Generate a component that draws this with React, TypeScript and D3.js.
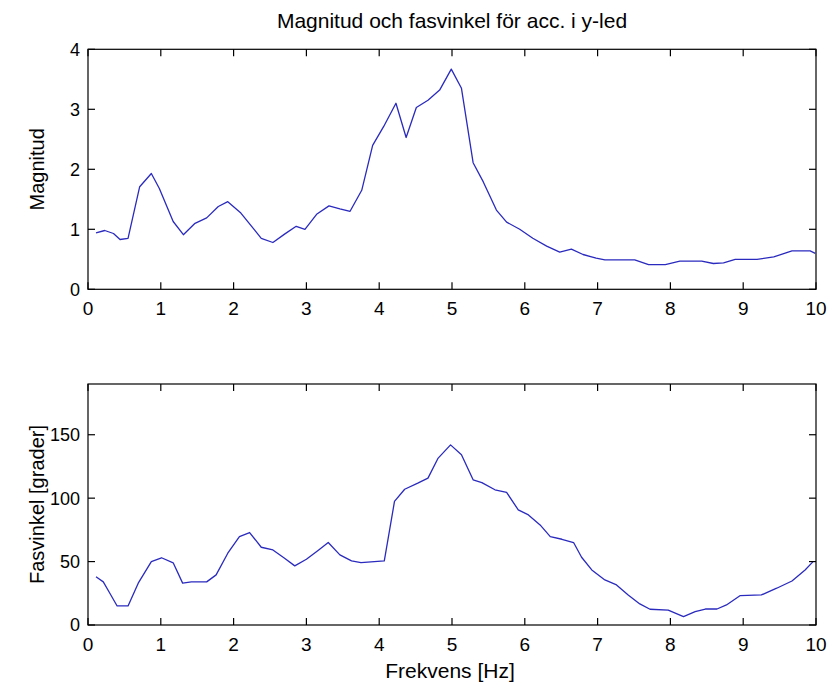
import React from "react";
import * as d3 from "d3";

// Frequency axis ticks (Hz)
const freqTicks = [0, 1, 2, 3, 4, 5, 6, 7, 8, 9, 10];
const magTicks = [0, 1, 2, 3, 4];
const phaseTicks = [0, 50, 100, 150];

// Magnitude spectrum
const magFreq = [
  0.11, 0.23, 0.35, 0.44, 0.55, 0.71, 0.87, 0.98, 1.17, 1.31, 1.47, 1.63, 1.79, 1.92,
  2.1, 2.38, 2.54, 2.7, 2.86, 2.98, 3.14, 3.31, 3.46, 3.6, 3.76, 3.91, 4.06, 4.23,
  4.37, 4.51, 4.67, 4.83, 4.99, 5.13, 5.29, 5.43, 5.61, 5.75, 5.93, 6.11, 6.3, 6.48,
  6.64, 6.8, 6.98, 7.1, 7.51, 7.7, 7.93, 8.13, 8.43, 8.59, 8.73, 8.89, 9.19, 9.42,
  9.67, 9.92, 9.99,
];
const magnitude = [
  0.94, 0.98, 0.93, 0.83, 0.85, 1.71, 1.93, 1.68, 1.13, 0.91, 1.1, 1.19, 1.38, 1.46,
  1.27, 0.85, 0.78, 0.92, 1.05, 1.0, 1.25, 1.39, 1.34, 1.3, 1.65, 2.4, 2.71, 3.1,
  2.53, 3.03, 3.15, 3.32, 3.67, 3.35, 2.11, 1.79, 1.32, 1.12, 1.0, 0.85, 0.72, 0.62,
  0.67, 0.58, 0.52, 0.49, 0.49, 0.41, 0.41, 0.47, 0.47, 0.43, 0.44, 0.5, 0.5, 0.54,
  0.64, 0.64, 0.6,
];

// Phase angle (degrees)
const phaseFreq = [
  0.11, 0.21, 0.3, 0.4, 0.55, 0.69, 0.87, 1.01, 1.17, 1.3, 1.42, 1.63, 1.76, 1.92,
  2.08, 2.22, 2.38, 2.54, 2.7, 2.84, 3.0, 3.16, 3.3, 3.46, 3.62, 3.75, 4.07, 4.21,
  4.35, 4.53, 4.67, 4.81, 4.98, 5.13, 5.29, 5.41, 5.59, 5.75, 5.91, 6.05, 6.21, 6.35,
  6.51, 6.67, 6.78, 6.92, 7.1, 7.26, 7.42, 7.58, 7.72, 7.97, 8.18, 8.34, 8.48, 8.64,
  8.77, 8.96, 9.25, 9.46, 9.67, 9.85, 9.96,
];
const phase = [
  38, 34, 25, 15, 15, 33, 50, 53, 49, 33, 34, 34, 39.5, 56.6,
  69.7, 72.9, 61.3, 59.2, 52.6, 46.6, 51.8, 58.7, 65, 55.3, 50.5, 49.2, 50.5, 97.4,
  107, 111.8, 115.8, 131.6, 142, 134.2, 114.5, 112.3, 106.6, 104.5, 90.8, 86.8, 78.9, 69.7,
  67.6, 65, 53.4, 43.4, 35.5, 31.6, 23.7, 16.6, 12.4, 11.8, 6.6, 10.5, 12.6, 12.6,
  15.8, 23.2, 23.7, 29, 34.7, 43.4, 50,
];

const W = 828;
const H = 684;
const left = 88;
const right = 816;
const font = "'Liberation Sans', Arial, Helvetica, sans-serif";
const lineColor = "#2a2abe";

type PanelProps = {
  top: number;
  bottom: number;
  yDomain: [number, number];
  yTicks: number[];
  xs: number[];
  ys: number[];
  ylabel: string;
};

function Panel({ top, bottom, yDomain, yTicks, xs, ys, ylabel }: PanelProps) {
  const x = d3.scaleLinear().domain([0, 10]).range([left, right]);
  const y = d3.scaleLinear().domain(yDomain).range([bottom, top]);
  const pts: [number, number][] = xs.map((f, i) => [f, ys[i]]);
  const path = d3
    .line<[number, number]>()
    .x((d) => x(d[0]))
    .y((d) => y(d[1]))(pts);
  const tl = 7;
  return (
    <g>
      <path d={path ?? ""} fill="none" stroke={lineColor} strokeWidth={1.3} strokeLinejoin="round" />
      <rect x={left} y={top} width={right - left} height={bottom - top} fill="none" stroke="#000" strokeWidth={1.2} />
      {freqTicks.map((t) => (
        <g key={"x" + t}>
          <line x1={x(t)} x2={x(t)} y1={bottom} y2={bottom - tl} stroke="#000" strokeWidth={1.2} />
          <line x1={x(t)} x2={x(t)} y1={top} y2={top + tl} stroke="#000" strokeWidth={1.2} />
          <text x={x(t)} y={bottom + 26} textAnchor="middle" fontSize={19} fontFamily={font} fill="#000">
            {t}
          </text>
        </g>
      ))}
      {yTicks.map((t) => (
        <g key={"y" + t}>
          <line x1={left} x2={left + tl} y1={y(t)} y2={y(t)} stroke="#000" strokeWidth={1.2} />
          <line x1={right} x2={right - tl} y1={y(t)} y2={y(t)} stroke="#000" strokeWidth={1.2} />
          <text x={80} y={y(t)} dy="0.36em" textAnchor="end" fontSize={18} fontFamily={font} fill="#000">
            {t}
          </text>
        </g>
      ))}
      <text
        transform={`translate(44,${(top + bottom) / 2}) rotate(-90)`}
        textAnchor="middle"
        fontSize={20}
        fontFamily={font}
        fill="#000"
      >
        {ylabel}
      </text>
    </g>
  );
}

export default function App() {
  return (
    <svg
      width={W}
      height={H}
      viewBox={`0 0 ${W} ${H}`}
      style={{ position: "fixed", left: 0, top: 0, background: "#fff" }}
    >
      <rect width={W} height={H} fill="#fff" />
      <text x={452} y={28} textAnchor="middle" fontSize={21} fontFamily={font} fill="#000">
        Magnitud och fasvinkel för acc. i y-led
      </text>
      <Panel top={49.3} bottom={289.3} yDomain={[0, 4]} yTicks={magTicks} xs={magFreq} ys={magnitude} ylabel="Magnitud" />
      <Panel top={384} bottom={625} yDomain={[0, 190]} yTicks={phaseTicks} xs={phaseFreq} ys={phase} ylabel="Fasvinkel [grader]" />
      <text x={450} y={678} textAnchor="middle" fontSize={21} fontFamily={font} fill="#000">
        Frekvens [Hz]
      </text>
    </svg>
  );
}
